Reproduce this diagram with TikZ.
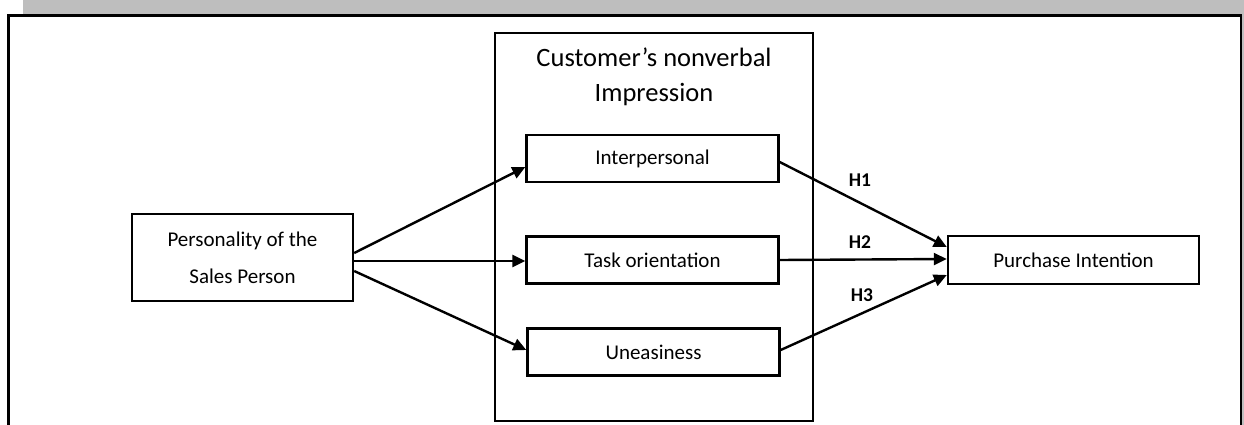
\documentclass[tikz,border=0pt]{standalone}
\usepackage{fontspec}
\setmainfont{Carlito}
\usetikzlibrary{arrows.meta}
\definecolor{bandgray}{RGB}{190,190,190}
\begin{document}
\begin{tikzpicture}[x=1pt,y=-1pt,
  box/.style={draw,line width=2.4pt,inner sep=0pt,align=center,
    font=\fontsize{21}{36.7}\selectfont},
  smallbox/.style={box,minimum width=252pt,minimum height=47pt},
  link/.style={line width=2.4pt,-{Triangle[length=13pt,width=12pt]}},
  hyp/.style={font=\fontsize{19.5}{22}\selectfont\bfseries}]
\useasboundingbox (0,0) rectangle (1244,425);
% page band and frame
\fill[bandgray] (23,0) rectangle (1244,14.5);
\fill[bandgray] (1242,0) rectangle (1244,425);
\draw[line width=2.8pt] (8.5,425) -- (8.5,15.5) -- (1241,15.5) -- (1241,425);
% mediating construct
\node[draw,line width=2.4pt,minimum width=318pt,minimum height=388pt,inner sep=0pt]
  (mid) at (654,227) {};
\node[align=center,font=\fontsize{26.5}{35}\selectfont] (title) at (654,77)
  {Customer’s nonverbal\\Impression};
% constructs
\node[box,minimum width=221pt,minimum height=87pt] (pers) at (242.5,257.5)
  {Personality of the\\Sales Person};
\node[smallbox] (inter) at (652.5,158.5) {Interpersonal};
\node[smallbox] (task)  at (652.5,260) {Task orientation};
\node[smallbox] (unease) at (653.5,352) {Uneasiness};
\node[box,minimum width=251pt,minimum height=48pt] (purch) at (1073.5,260)
  {Purchase Intention};
% paths
\draw[link] ([yshift=4.5pt]pers.east) -- ([yshift=-8.5pt]inter.west);
\draw[link] ([yshift=-3.5pt]pers.east) -- ([yshift=-1pt]task.west);
\draw[link] ([yshift=-13.5pt]pers.east) -- ([yshift=2pt]unease.west);
\draw[link] ([yshift=-3.5pt]inter.east) -- ([yshift=13pt]purch.west);
\draw[link] (task.east) -- ([yshift=1pt]purch.west);
\draw[link] ([yshift=2pt]unease.east) -- ([yshift=-15pt]purch.west);
% hypothesis labels
\node[hyp] (h1) at (860,180) {H1};
\node[hyp] (h2) at (860,242) {H2};
\node[hyp] (h3) at (862,295) {H3};
\end{tikzpicture}
\end{document}
